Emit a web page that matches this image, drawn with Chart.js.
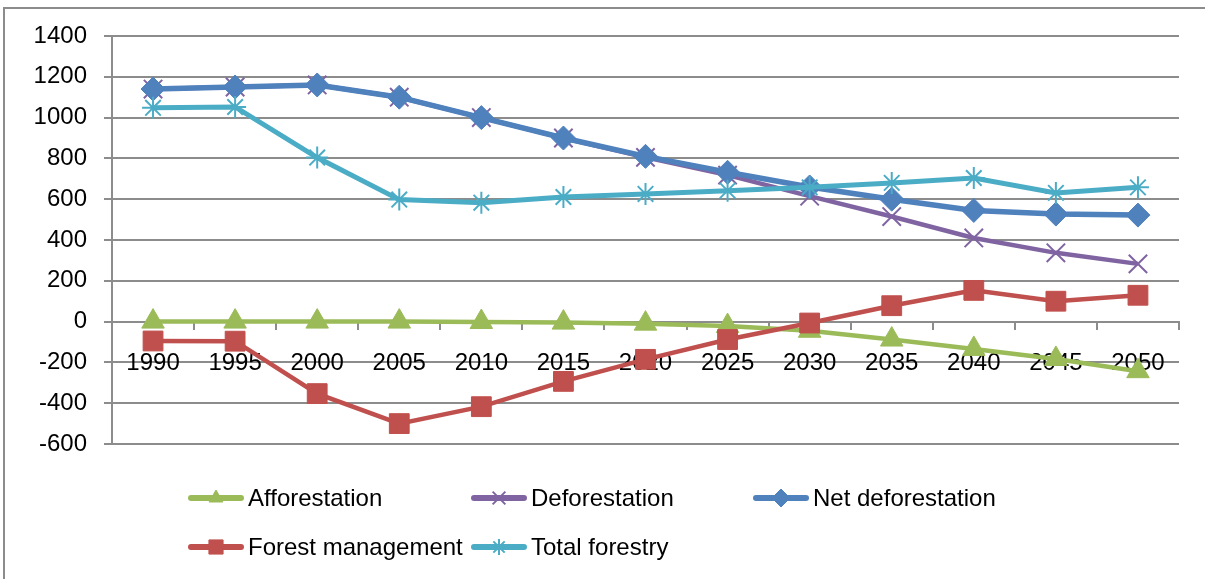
<!DOCTYPE html>
<html lang="en">
<head>
  <meta charset="UTF-8">
  <title>Forestry emissions 1990-2050</title>
  <script src="https://cdn.jsdelivr.net/npm/chart.js"></script>
  <style>
    body { margin: 0; background: #ffffff; }
    #wrap { position: relative; width: 1205px; height: 579px; }
    #frame {
      position: absolute; left: 3px; top: 7px; right: 0; bottom: 0;
      border-left: 2px solid #8c8c8c; border-top: 2px solid #8c8c8c;
    }
    canvas { position: absolute; left: 0; top: 0; }
  </style>
</head>
<body>
  <div id="wrap">
    <div id="frame"></div>
    <canvas id="forestChart" width="1205" height="579"></canvas>
  </div>

  <script>
    // values
    const years = ['1990', '1995', '2000', '2005', '2010', '2015', '2020', '2025', '2030', '2035', '2040', '2045', '2050'];
    const afforestation = [0, 0, 0, 0, -2, -5, -10, -22, -45, -88, -134, -183, -243];
    const deforestation = [1140, 1150, 1160, 1100, 1000, 900, 805, 718, 615, 515, 410, 337, 283];
    const netDeforestation = [1140, 1150, 1160, 1100, 1000, 900, 810, 732, 660, 600, 545, 527, 522];
    const forestManagement = [-95, -96, -353, -500, -417, -293, -185, -88, -7, 78, 153, 100, 129];
    const totalForestry = [1048, 1052, 804, 598, 583, 611, 626, 642, 658, 680, 704, 631, 658];
    const yTicks = [-600, -400, -200, 0, 200, 400, 600, 800, 1000, 1200, 1400];

    const gridColor = '#8c8c8c';
    const fontFamily = '"Liberation Sans", Arial, sans-serif';

    function series(label, data, color, style, radius, width, order) {
      const lineStyle = style === 'crossRot' || style === 'star';
      return {
        label: label,
        data: data,
        borderColor: color,
        backgroundColor: color,
        borderWidth: width,
        pointStyle: style,
        pointRadius: radius,
        pointBackgroundColor: color,
        pointBorderColor: color,
        pointBorderWidth: lineStyle ? 2 : 1,
        tension: 0,
        order: order
      };
    }

    const datasets = [
      series('Afforestation', afforestation, '#9bbb59', 'triangle', 13, 4.5, 5),
      series('Deforestation', deforestation, '#8064a2', 'crossRot', 13, 4.5, 4),
      series('Net deforestation', netDeforestation, '#4f81bd', 'rectRot', 12, 5.5, 3),
      series('Forest management', forestManagement, '#c0504d', 'rect', 14, 4.5, 2),
      series('Total forestry', totalForestry, '#4bacc6', 'star', 11, 5, 1)
    ];

    // legend laid out in two rows like the original
    const legendSlots = [[188, 498], [471, 498], [753, 498], [188, 547], [471, 547]];
    const legendMarker = { triangle: 8, crossRot: 9, rectRot: 9, rect: 10, star: 8 };

    const legendPlugin = {
      id: 'rowLegend',
      afterDraw(chart) {
        const ctx = chart.ctx;
        datasets.forEach(function (ds, i) {
          const x = legendSlots[i][0], y = legendSlots[i][1];
          ctx.save();
          ctx.strokeStyle = ds.borderColor;
          ctx.lineWidth = 6;
          ctx.lineCap = 'round';
          ctx.beginPath();
          ctx.moveTo(x + 3, y);
          ctx.lineTo(x + 53, y);
          ctx.stroke();
          ctx.fillStyle = ds.borderColor;
          ctx.lineWidth = ds.pointBorderWidth;
          ctx.lineCap = 'butt';
          Chart.helpers.drawPoint(ctx, {
            pointStyle: ds.pointStyle,
            radius: legendMarker[ds.pointStyle],
            rotation: 0,
            borderWidth: ds.pointBorderWidth
          }, x + 28, y);
          ctx.fillStyle = '#000000';
          ctx.font = '24px ' + fontFamily;
          ctx.textBaseline = 'middle';
          ctx.textAlign = 'left';
          ctx.fillText(ds.label, x + 60, y + 1);
          ctx.restore();
        });
      }
    };

    new Chart(document.getElementById('forestChart').getContext('2d'), {
      type: 'line',
      data: { labels: years, datasets: datasets },
      options: {
        responsive: false,
        animation: false,
        layout: { padding: { left: 0, top: 36, right: 26, bottom: 135 } },
        plugins: {
          legend: { display: false },
          tooltip: { enabled: false }
        },
        scales: {
          x: {
            position: { y: 0 },
            offset: true,
            grid: {
              display: true,
              drawOnChartArea: false,
              drawTicks: true,
              tickLength: 7,
              offset: true,
              color: gridColor,
              lineWidth: 2
            },
            border: { display: true, color: gridColor, width: 2 },
            ticks: {
              color: '#000000',
              font: { family: fontFamily, size: 24 },
              padding: 20,
              maxRotation: 0,
              autoSkip: false
            }
          },
          y: {
            min: -600,
            max: 1400,
            afterFit(scale) { scale.width = 112; },
            afterBuildTicks(scale) { scale.ticks = yTicks.map(function (v) { return { value: v }; }); },
            grid: { color: gridColor, lineWidth: 2, tickLength: 8 },
            border: { display: true, color: gridColor, width: 2 },
            ticks: {
              color: '#000000',
              font: { family: fontFamily, size: 24 },
              padding: 17,
              callback: function (value) { return String(value); }
            }
          }
        }
      },
      plugins: [legendPlugin]
    });
  </script>
</body>
</html>
